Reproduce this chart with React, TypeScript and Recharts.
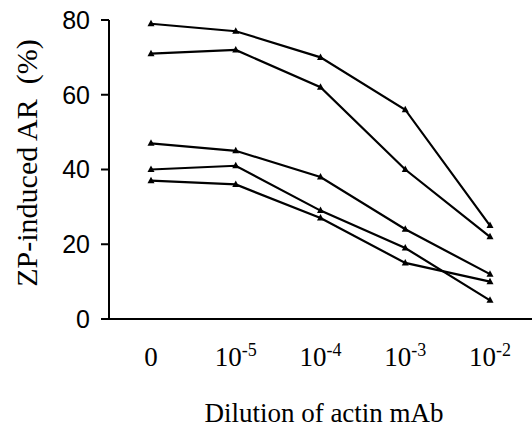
import React from 'react';
import { LineChart, Line, XAxis, YAxis, Label } from 'recharts';

// dilution steps (base, exponent)
const dilutions = ['0', '10^-5', '10^-4', '10^-3', '10^-2'];

// five experiments, % acrosome reaction
const seriesA = [79, 77, 70, 56, 25];
const seriesB = [71, 72, 62, 40, 22];
const seriesC = [47, 45, 38, 24, 12];
const seriesD = [40, 41, 29, 19, 5];
const seriesE = [37, 36, 27, 15, 10];

const yTicks = [0, 20, 40, 60, 80];

const data = dilutions.map((d, i) => ({
  d,
  a: seriesA[i],
  b: seriesB[i],
  c: seriesC[i],
  e: seriesD[i],
  f: seriesE[i],
}));

const Triangle = (props: any) => {
  const { cx, cy } = props;
  if (cx == null || cy == null) return null;
  return <path d={`M${cx},${cy - 4}L${cx + 3.5},${cy + 2.5}L${cx - 3.5},${cy + 2.5}Z`} fill="#000" />;
};

const DilutionTick = (props: any) => {
  const { x, y, payload } = props;
  const [base, exp] = String(payload.value).split('^');
  return (
    <text x={x} y={y + 39} textAnchor="middle" fontFamily="'Liberation Serif', serif" fontSize={27} fill="#000">
      <tspan>{base}</tspan>
      {exp && (
        <tspan dy={-10} fontSize={18}>
          {exp}
        </tspan>
      )}
    </text>
  );
};

const keys = ['a', 'b', 'c', 'e', 'f'];

export default function App() {
  return (
    <div style={{ position: 'absolute', left: 0, top: 0, background: '#fff' }}>
      <LineChart width={532} height={428} data={data} margin={{ top: 20, right: 0, bottom: 0, left: 0 }}>
        <XAxis
          dataKey="d"
          height={109}
          padding={{ left: 42, right: 42 }}
          axisLine={{ stroke: '#000', strokeWidth: 2 }}
          tickLine={false}
          tick={<DilutionTick />}
          interval={0}
        >
          <Label
            content={() => (
              <text x={324} y={422} textAnchor="middle" fontFamily="'Liberation Serif', serif" fontSize={27} fill="#000">
                Dilution of actin mAb
              </text>
            )}
          />
        </XAxis>
        <YAxis
          width={109}
          domain={[0, 80]}
          ticks={yTicks}
          interval={0}
          axisLine={{ stroke: '#000', strokeWidth: 2 }}
          tickLine={{ stroke: '#000', strokeWidth: 2 }}
          tickSize={8}
          tickMargin={11}
          tick={{ fill: '#000', fontSize: 25, fontFamily: "'Liberation Sans', sans-serif" }}
        >
          <Label
            content={() => (
              <text
                x={37}
                y={163}
                transform="rotate(-90, 37, 163)"
                textAnchor="middle"
                fontFamily="'Liberation Serif', serif"
                fontSize={30}
                fill="#000"
                style={{ whiteSpace: 'pre' }}
              >
                ZP-induced AR  (%)
              </text>
            )}
          />
        </YAxis>
        {keys.map((k) => (
          <Line
            key={k}
            dataKey={k}
            stroke="#000"
            strokeWidth={2.2}
            dot={<Triangle />}
            activeDot={false}
            isAnimationActive={false}
          />
        ))}
      </LineChart>
    </div>
  );
}
